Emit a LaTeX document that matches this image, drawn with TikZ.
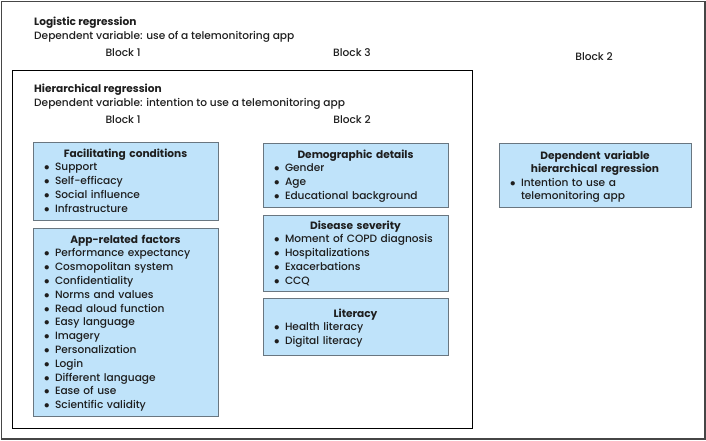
\documentclass[tikz,border=0pt]{standalone}
\usepackage{fontspec}
\setmainfont{Poppins Medium}[BoldFont={Poppins Bold}]
\definecolor{boxfill}{RGB}{191,227,250}
\definecolor{boxline}{RGB}{105,118,128}
\definecolor{txtc}{RGB}{30,30,30}
\definecolor{outerc}{RGB}{70,70,70}
\newcommand\bul{\makebox[11.5pt][l]{\hspace{0.5pt}$\bullet$}}
\begin{document}
\begin{tikzpicture}[x=1pt,y=-1pt,
  every node/.style={text=txtc,font=\fontsize{10.6}{13.8}\selectfont},
  lbl/.style={anchor=base west,inner sep=0},
  blk/.style={anchor=base,inner sep=0},
  bx/.style={draw=boxline,fill=boxfill,line width=0.9pt,anchor=north west,inner sep=0},
  cnt/.style={anchor=base,inner sep=0,align=left}]
\useasboundingbox (0,0) rectangle (706,440);
\node[draw=outerc,line width=1.5pt,anchor=north west,inner sep=0,minimum width=703.5,minimum height=437.5] (outer) at (0.8,0.8) {};
\node[draw=black,line width=1.3pt,anchor=north west,inner sep=0,minimum width=459.7,minimum height=358] (inner) at (12,69.5) {};
% headings
\node[lbl] (logt) at (34,25) {\bfseries Logistic regression};
\node[lbl] (logd) at (34,39) {Dependent variable: use of a telemonitoring app};
\node[blk] (lb1) at (123,56) {Block 1};
\node[blk] (lb3) at (352,56) {Block 3};
\node[blk] (lb2) at (594,60) {Block 2};
\node[lbl] (hiet) at (34,92) {\bfseries Hierarchical regression};
\node[lbl] (hied) at (34,106) {Dependent variable: intention to use a telemonitoring app};
\node[blk] (hb1) at (123,123) {Block 1};
\node[blk] (hb2) at (352,123) {Block 2};
% boxes
\node[bx,minimum width=185,minimum height=78] (fc) at (33,142) {};
\node[cnt,text width=164] (fct) at (125.5,157) {\makebox[\linewidth]{\bfseries Facilitating conditions}\\
\bul Support\\ \bul Self-efficacy\\ \bul Social influence\\ \bul Infrastructure};
\node[bx,minimum width=185,minimum height=188] (ap) at (33,228) {};
\node[cnt,text width=164] (apt) at (125.5,243) {\makebox[\linewidth]{\bfseries App-related factors}\\
\bul Performance expectancy\\ \bul Cosmopolitan system\\ \bul Confidentiality\\ \bul Norms and values\\
\bul Read aloud function\\ \bul Easy language\\ \bul Imagery\\ \bul Personalization\\ \bul Login\\
\bul Different language\\ \bul Ease of use\\ \bul Scientific validity};
\node[bx,minimum width=185,minimum height=64] (dm) at (263,143) {};
\node[cnt,text width=164] (dmt) at (355.5,158) {\makebox[\linewidth]{\bfseries Demographic details}\\
\bul Gender\\ \bul Age\\ \bul Educational background};
\node[bx,minimum width=185,minimum height=76] (ds) at (263,215) {};
\node[cnt,text width=164] (dst) at (355.5,229) {\makebox[\linewidth]{\bfseries Disease severity}\\
\bul Moment of COPD diagnosis\\ \bul Hospitalizations\\ \bul Exacerbations\\ \bul CCQ};
\node[bx,minimum width=185,minimum height=57] (li) at (263,298) {};
\node[cnt,text width=164] (lit) at (355.5,317) {\makebox[\linewidth]{\bfseries Literacy}\\
\bul Health literacy\\ \bul Digital literacy};
\node[bx,minimum width=192,minimum height=64] (dv) at (499,143) {};
\node[cnt,text width=171,font=\fontsize{10.6}{13.6}\selectfont] (dvt) at (595,159) {\makebox[\linewidth]{\bfseries Dependent variable}\\
\makebox[\linewidth]{\bfseries hierarchical regression}\\
\bul Intention to use a\\ \hspace*{11.5pt}telemonitoring app};
\end{tikzpicture}
\end{document}
